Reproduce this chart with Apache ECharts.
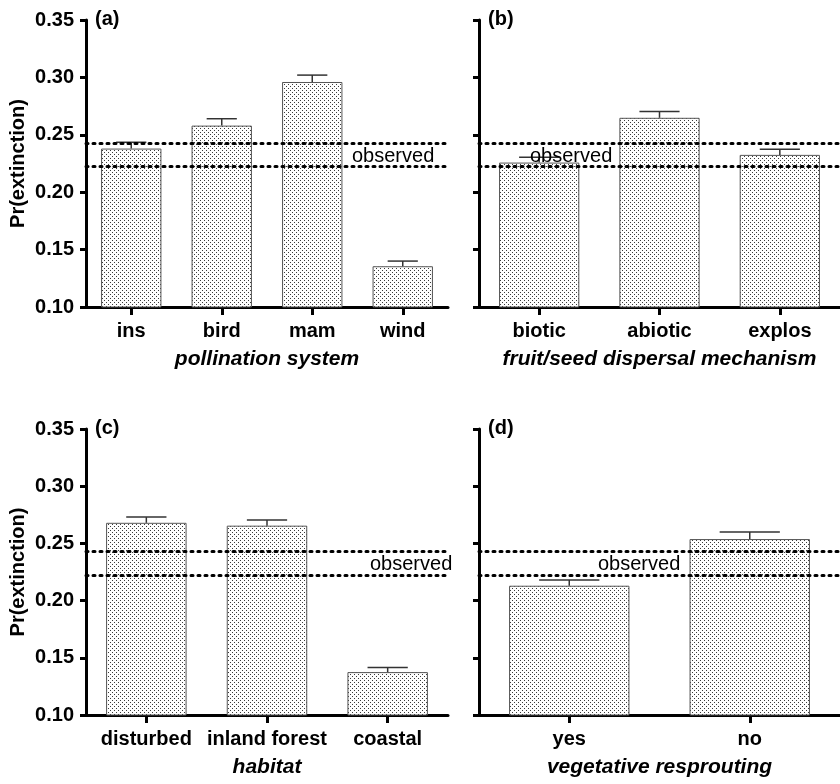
<!DOCTYPE html>
<html>
<head>
<meta charset="utf-8">
<script src="https://cdn.jsdelivr.net/npm/echarts@6/dist/echarts.min.js"></script>
<style>
html,body{margin:0;padding:0;background:#fff;}
#chart{width:840px;height:784px;}
</style>
</head>
<body>
<div id="chart"></div>
<script>
// ---- data ----
const catsA = ['ins', 'bird', 'mam', 'wind'];
const valsA = [0.238, 0.258, 0.296, 0.1355];
const errA  = [0.0055, 0.006, 0.006, 0.0045];

const catsB = ['biotic', 'abiotic', 'explos'];
const valsB = [0.2258, 0.2648, 0.2325];
const errB  = [0.0047, 0.0055, 0.005];

const catsC = ['disturbed', 'inland forest', 'coastal'];
const valsC = [0.268, 0.2655, 0.1375];
const errC  = [0.005, 0.005, 0.004];

const catsD = ['yes', 'no'];
const valsD = [0.213, 0.2538];
const errD  = [0.005, 0.0061];

const observedLow = 0.2225;
const observedHigh = 0.2428;

const panelLetters = ['(a)', '(b)', '(c)', '(d)'];
const axisTitles = ['pollination system', 'fruit/seed dispersal mechanism', 'habitat', 'vegetative resprouting'];
const yTitle = 'Pr(extinction)';
const yMin = 0.10, yMax = 0.35, yStep = 0.05;
const observedLabel = 'observed';

// ---- pattern fill ----
function makePattern() {
  const c = document.createElement('canvas');
  c.width = 4; c.height = 4;
  const ctx = c.getContext('2d');
  ctx.fillStyle = '#ffffff';
  ctx.fillRect(0, 0, 4, 4);
  ctx.fillStyle = '#3a3a3a';
  ctx.fillRect(0, 0, 1, 1);
  ctx.fillRect(2, 2, 1, 1);
  return c;
}
const pattern = { image: makePattern(), repeat: 'repeat' };

const FONT = 'Liberation Sans, Arial, Helvetica, sans-serif';

const panels = [
  { cats: catsA, vals: valsA, errs: errA, grid: { left: 86, top: 20, width: 362, height: 287 }, showY: true, obsDist: 266 },
  { cats: catsB, vals: valsB, errs: errB, grid: { left: 479, top: 20, width: 361, height: 287 }, showY: false, obsDist: 51 },
  { cats: catsC, vals: valsC, errs: errC, grid: { left: 86, top: 429, width: 362, height: 286 }, showY: true, obsDist: 284 },
  { cats: catsD, vals: valsD, errs: errD, grid: { left: 479, top: 429, width: 361, height: 286 }, showY: false, obsDist: 119 }
];

function renderErr(params, api) {
  const x = api.value(0), v = api.value(1), e = api.value(2);
  const p0 = api.coord([x, v]);
  const p1 = api.coord([x, v + e]);
  const bw = api.size([1, 0])[0];
  const hw = bw * 0.667 * 0.25;
  return {
    type: 'group',
    children: [
      { type: 'line', shape: { x1: p0[0], y1: p0[1], x2: p1[0], y2: p1[1] }, style: { stroke: '#333', lineWidth: 1.5 } },
      { type: 'line', shape: { x1: p1[0] - hw, y1: p1[1], x2: p1[0] + hw, y2: p1[1] }, style: { stroke: '#333', lineWidth: 1.5 } }
    ]
  };
}

const grids = [], xAxes = [], yAxes = [], series = [], titles = [];
panels.forEach((p, i) => {
  grids.push(Object.assign({ containLabel: false }, p.grid));
  titles.push({
    text: panelLetters[i],
    left: p.grid.left + 9,
    top: p.grid.top - 11,
    padding: 0,
    textStyle: { fontFamily: FONT, fontWeight: 'bold', fontSize: 20, color: '#000' }
  });
  xAxes.push({
    gridIndex: i,
    type: 'category',
    data: p.cats,
    boundaryGap: true,
    axisLine: { show: true, lineStyle: { color: '#000', width: 3 } },
    axisTick: { show: true, alignWithLabel: true, length: 8, lineStyle: { color: '#000', width: 3 } },
    axisLabel: { margin: 14, fontFamily: FONT, fontWeight: 'bold', fontSize: 20, color: '#000', interval: 0 },
    name: axisTitles[i],
    nameLocation: 'middle',
    nameGap: 42,
    nameTextStyle: { fontFamily: FONT, fontWeight: 'bold', fontStyle: 'italic', fontSize: 21, color: '#000' },
    splitLine: { show: false }
  });
  yAxes.push({
    gridIndex: i,
    type: 'value',
    min: yMin, max: yMax, interval: yStep,
    axisLine: { show: true, lineStyle: { color: '#000', width: 3 } },
    axisTick: { show: true, length: 6, lineStyle: { color: '#000', width: 3 } },
    axisLabel: {
      show: p.showY, margin: 12, fontFamily: FONT, fontWeight: 'bold', fontSize: 20, color: '#000',
      formatter: v => v.toFixed(2)
    },
    splitLine: { show: false },
    name: p.showY ? yTitle : '',
    nameLocation: 'middle',
    nameGap: 58,
    nameTextStyle: { fontFamily: FONT, fontWeight: 'bold', fontSize: 20, color: '#000' }
  });
  // observed lines (behind bars)
  series.push({
    type: 'line',
    xAxisIndex: i, yAxisIndex: i,
    data: [],
    z: 1,
    silent: true,
    markLine: {
      silent: true,
      precision: 5,
      symbol: ['none', 'none'],
      animation: false,
      lineStyle: { color: '#000', width: 3, type: [2, 5], cap: 'round' },
      data: [
        { yAxis: observedHigh, label: { show: false } },
        {
          yAxis: observedLow,
          label: {
            show: true, position: 'insideStartTop', distance: [p.obsDist, 0],
            formatter: observedLabel, fontFamily: FONT, fontSize: 20, color: '#000'
          }
        }
      ]
    }
  });
  series.push({
    type: 'bar',
    xAxisIndex: i, yAxisIndex: i,
    data: p.vals,
    barWidth: '66.7%',
    z: 3,
    animation: false,
    itemStyle: { color: pattern, borderColor: '#555', borderWidth: 1 }
  });
  series.push({
    type: 'custom',
    xAxisIndex: i, yAxisIndex: i,
    z: 4,
    animation: false,
    renderItem: renderErr,
    data: p.vals.map((v, k) => [k, v, p.errs[k]])
  });
});

const chart = echarts.init(document.getElementById('chart'), null, { renderer: 'canvas' });
chart.setOption({
  animation: false,
  backgroundColor: '#fff',
  title: titles,
  grid: grids,
  xAxis: xAxes,
  yAxis: yAxes,
  series: series
});
</script>
</body>
</html>
